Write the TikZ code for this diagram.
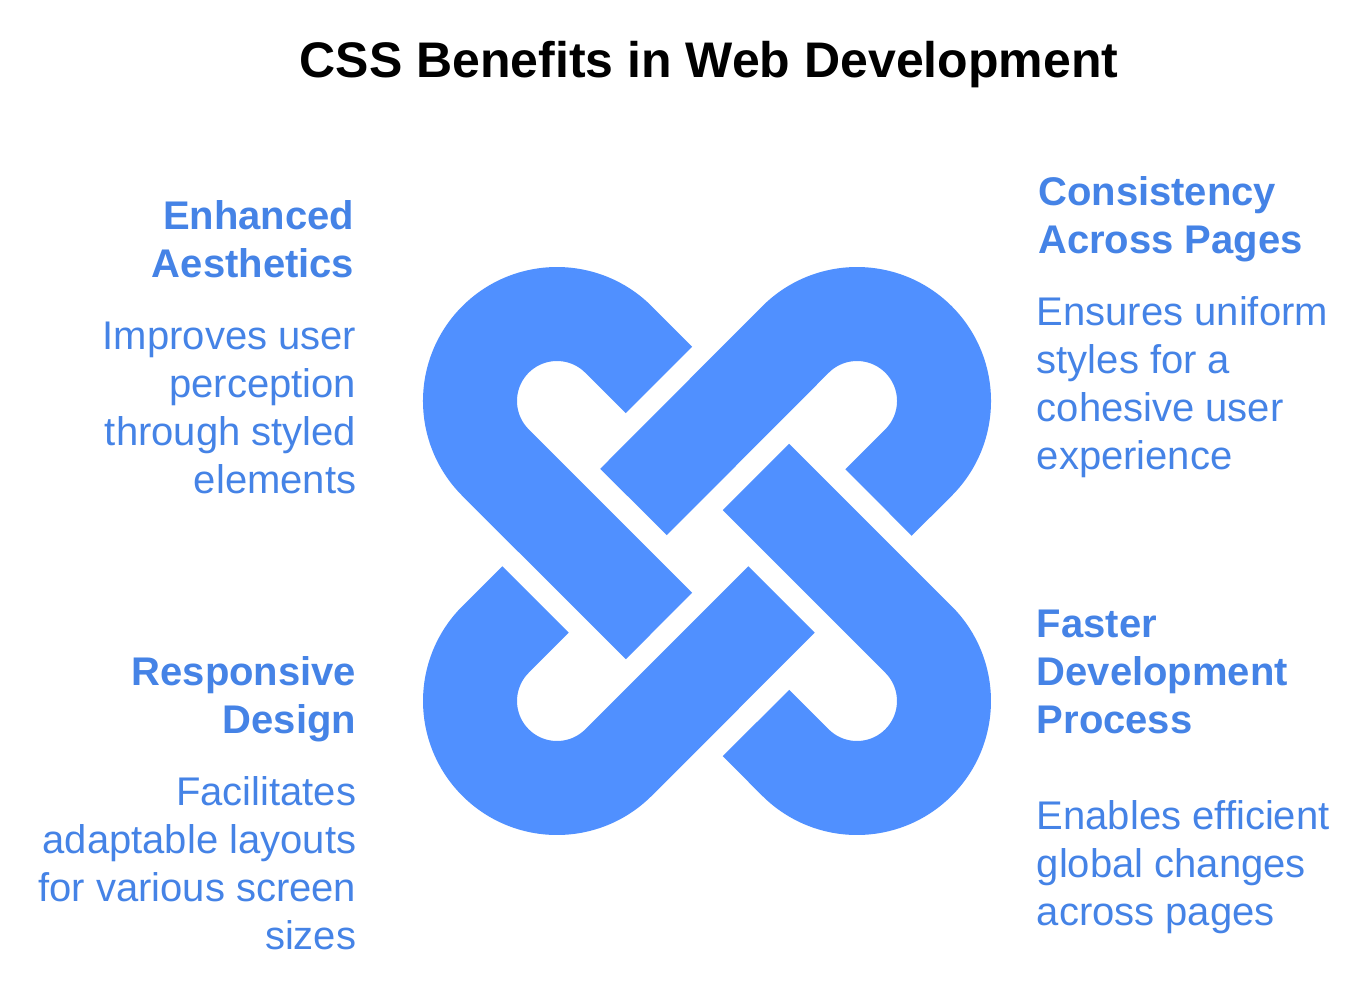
\documentclass[tikz,border=0pt]{standalone}
\usepackage{fontspec}
\setmainfont{Liberation Sans}
\definecolor{knotblue}{HTML}{5090FF}
\definecolor{textblue}{HTML}{4583E6}
\begin{document}
\begin{tikzpicture}[x=.75pt,y=.75pt]
        \tikzstyle{strand} = [draw=knotblue,line width=70.5pt,line cap=butt,line join=round]
        \tikzstyle{head} = [text=textblue,font=\fontsize{30}{36}\selectfont\bfseries,inner sep=0pt]
        \tikzstyle{body} = [text=textblue,font=\fontsize{30}{36}\selectfont,inner sep=0pt]
        \useasboundingbox (0,0) rectangle (1368,984);
        \node[font=\fontsize{37.5}{45}\selectfont\bfseries,text=black,inner sep=0pt] (title) at (709,919.5) {CSS Benefits in Web Development};
        % left column
        \node[head,align=right,anchor=north east] (aesthetics) at (354.5,784) {Enhanced\\Aesthetics};
        \node[body,align=right,anchor=north east] (aestheticstext) at (356.5,662) {Improves user\\perception\\through styled\\elements};
        \node[head,align=right,anchor=north east] (responsive) at (356.5,328) {Responsive\\Design};
        \node[body,align=right,anchor=north east] (responsivetext) at (356.5,208) {Facilitates\\adaptable layouts\\for various screen\\sizes};
        % right column
        \node[head,align=left,anchor=north west] (consistency) at (1038,808) {Consistency\\Across Pages};
        \node[body,align=left,anchor=north west] (consistencytext) at (1036.5,688) {Ensures uniform\\styles for a\\cohesive user\\experience};
        \node[head,align=left,anchor=north west] (faster) at (1036.5,374) {Faster\\Development\\Process};
        \node[body,align=left,anchor=north west] (fastertext) at (1036.5,184) {Enables efficient\\global changes\\across pages};
        % knot
        \draw[strand] (659,604) -- (618.5,644.5) arc (45:225:87) -- (659,358);
        \draw[strand] (633.5,482) -- (795.5,644.5) arc (135:-45:87) -- (878.5,481.5);
        \draw[strand] (535.5,384.5) -- (495.5,344.5) arc (135:315:87) -- (781.5,384.5);
        \draw[strand] (756,507) -- (918.5,344.5) arc (45:-135:87) -- (756,261);
\end{tikzpicture}
\end{document}
